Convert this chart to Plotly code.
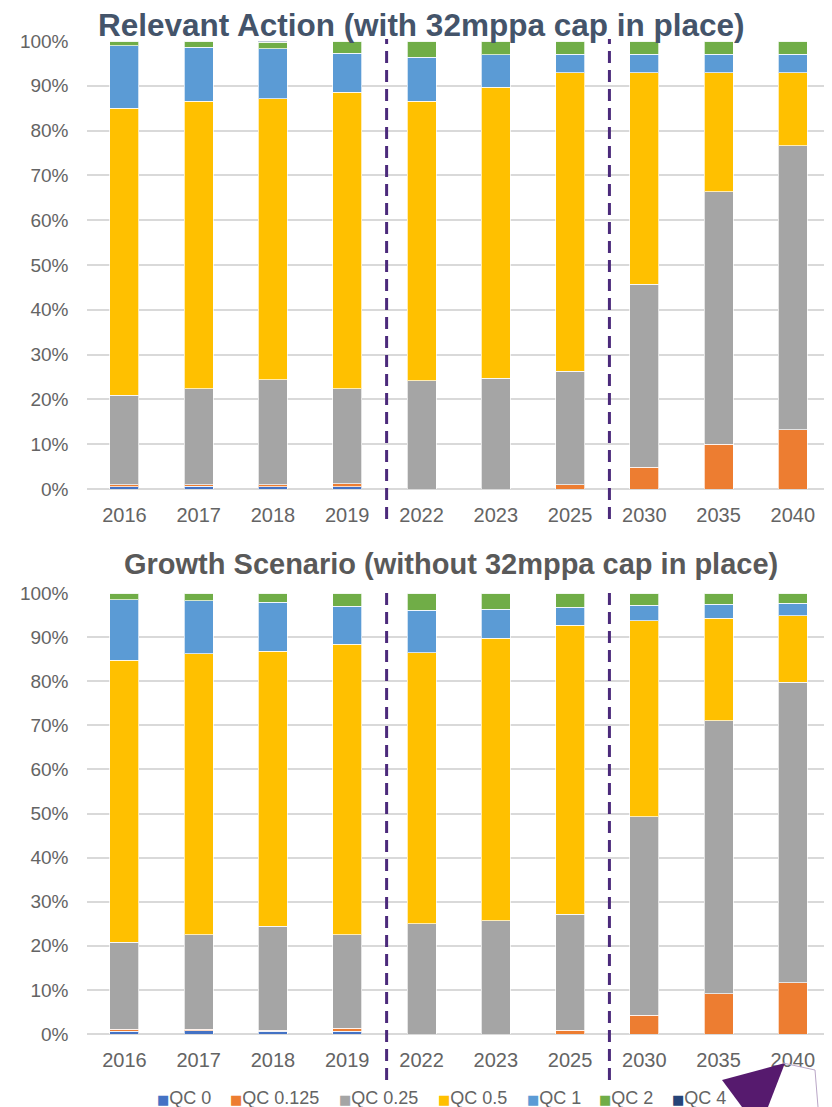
import plotly.graph_objects as go

# page body adds an 8px margin, so the figure is drawn 8px smaller and offset
OFF = 8
W, H = 832 - OFF, 1107 - OFF

years = ["2016", "2017", "2018", "2019", "2022", "2023", "2025", "2030", "2035", "2040"]
series_names = ["QC 0", "QC 0.125", "QC 0.25", "QC 0.5", "QC 1", "QC 2", "QC 4"]
colors = ["#4472C4", "#ED7D31", "#A5A5A5", "#FFC000", "#5B9BD5", "#70AD47", "#264478"]

# Relevant Action (with cap) - share in %
ra_qc0 = [0.5, 0.6, 0.5, 0.5, 0, 0, 0, 0, 0, 0]
ra_qc0125 = [0.5, 0.3, 0.4, 0.7, 0, 0, 0.9, 4.9, 10.0, 13.2]
ra_qc025 = [19.9, 21.5, 23.5, 21.2, 24.2, 24.7, 25.4, 40.8, 56.4, 63.4]
ra_qc05 = [64.1, 64.1, 62.7, 66.2, 62.4, 65.0, 66.6, 47.2, 26.5, 16.3]
ra_qc1 = [13.9, 12.1, 11.2, 8.7, 9.8, 7.2, 4.1, 4.1, 4.1, 4.1]
ra_qc2 = [1.1, 1.4, 1.4, 2.7, 3.6, 3.1, 3.0, 3.0, 3.0, 3.0]
ra_qc4 = [0, 0, 0.3, 0, 0, 0, 0, 0, 0, 0]

# Growth Scenario (without cap) - share in %
gs_qc0 = [0.6, 0.7, 0.6, 0.6, 0, 0, 0, 0, 0, 0]
gs_qc0125 = [0.5, 0.4, 0.3, 0.7, 0, 0, 0.8, 4.2, 9.1, 11.6]
gs_qc025 = [19.7, 21.4, 23.5, 21.2, 25.0, 25.7, 26.3, 45.1, 61.9, 68.2]
gs_qc05 = [63.9, 63.7, 62.4, 65.9, 61.5, 64.0, 65.6, 44.4, 23.3, 15.0]
gs_qc1 = [13.8, 12.0, 11.1, 8.6, 9.6, 6.6, 4.1, 3.5, 3.1, 2.9]
gs_qc2 = [1.5, 1.8, 2.1, 3.0, 3.9, 3.7, 3.2, 2.8, 2.6, 2.3]
gs_qc4 = [0, 0, 0, 0, 0, 0, 0, 0, 0, 0]

ra = [ra_qc0, ra_qc0125, ra_qc025, ra_qc05, ra_qc1, ra_qc2, ra_qc4]
gs = [gs_qc0, gs_qc0125, gs_qc025, gs_qc05, gs_qc1, gs_qc2, gs_qc4]

FONT = "Liberation Sans"
GREY_TXT = "#646464"


def py(y):
    return 1 - (y - OFF) / H


def px(x):
    return (x - OFF) / W


fig = go.Figure()
for name, col, vals in zip(series_names, colors, ra):
    fig.add_trace(go.Bar(x=years, y=vals, name=name, marker_color=col,
                         marker_line=dict(color="rgba(255,255,255,0.7)", width=1),
                         xaxis="x", yaxis="y", showlegend=False))
for name, col, vals in zip(series_names, colors, gs):
    fig.add_trace(go.Bar(x=years, y=vals, name=name, marker_color=col,
                         marker_line=dict(color="rgba(255,255,255,0.7)", width=1),
                         xaxis="x2", yaxis="y2", showlegend=False))

xdom = [px(87.3), px(830)]
axis_common_x = dict(type="category", range=[-0.5, 9.5], showgrid=False, showline=False,
                     ticks="outside", ticklen=8, tickcolor="rgba(0,0,0,0)",
                     tickfont=dict(family=FONT, size=20, color=GREY_TXT), domain=xdom)
axis_common_y = dict(range=[0, 100], dtick=10, ticksuffix="%", showgrid=True,
                     gridcolor="#D9D9D9", gridwidth=2, zeroline=True,
                     zerolinecolor="#D9D9D9", zerolinewidth=2, showline=False,
                     ticks="outside", ticklen=14, tickcolor="rgba(0,0,0,0)",
                     tickfont=dict(family=FONT, size=19, color=GREY_TXT))

annotations = [
    dict(text="<b>Relevant Action (with 32mppa cap in place)</b>", xref="paper", yref="paper",
         x=px(421), y=1.003, xanchor="center", yanchor="top", showarrow=False,
         font=dict(family=FONT, size=31.5, color="#44546A")),
    dict(text="<b>Growth Scenario (without 32mppa cap in place)</b>", xref="paper", yref="paper",
         x=px(451), y=py(564), xanchor="center", yanchor="middle", showarrow=False,
         font=dict(family=FONT, size=29, color="#595959")),
]

# legend drawn as a row of labelled squares (spacing like the original)
legend_x = [155, 228, 337, 436, 525, 597, 670]
for name, col, lx in zip(series_names, colors, legend_x):
    annotations.append(dict(
        text='<span style="color:{};font-family:DejaVu Sans;font-size:13px">■</span>{}'.format(col, name),
        xref="paper", yref="paper", x=px(lx), y=py(1098), xanchor="left", yanchor="middle",
        showarrow=False, font=dict(family=FONT, size=18, color=GREY_TXT)))

fig.update_layout(
    width=W, height=H, barmode="stack", bargap=0.61,
    paper_bgcolor="white", plot_bgcolor="white",
    margin=dict(l=0, r=0, t=0, b=0, autoexpand=False),
    showlegend=False,
    xaxis=dict(axis_common_x, anchor="y"),
    yaxis=dict(axis_common_y, domain=[py(489), py(41)], anchor="x"),
    xaxis2=dict(axis_common_x, anchor="y2"),
    yaxis2=dict(axis_common_y, domain=[py(1034), py(593)], anchor="x2"),
    annotations=annotations,
)

# dashed separators between period groups
shapes = []
for xv in (3.53, 6.53):
    shapes.append(dict(type="line", xref="x", yref="paper", x0=xv, x1=xv,
                       y0=py(519), y1=py(39),
                       line=dict(color="#4B2A7B", width=3, dash="12px,7px")))
    shapes.append(dict(type="line", xref="x2", yref="paper", x0=xv, x1=xv,
                       y0=py(1080), y1=py(591),
                       line=dict(color="#4B2A7B", width=3, dash="12px,7px")))

# purple logo fragment at bottom right
logo = "M {},{} L {},{} L {},{} L {},{} Z".format(
    px(722), py(1080), px(785), py(1063), px(768), py(1107), px(742), py(1107))
shapes.append(dict(type="path", xref="paper", yref="paper", path=logo,
                   fillcolor="#561A6E", line=dict(width=0)))
edge = "M {},{} L {},{} L {},{}".format(px(783), py(1063), px(815), py(1070), px(818), py(1107))
shapes.append(dict(type="path", xref="paper", yref="paper", path=edge,
                   line=dict(color="#B9A6C6", width=1)))
fig.update_layout(shapes=shapes)

fig.write_html("out.html")
